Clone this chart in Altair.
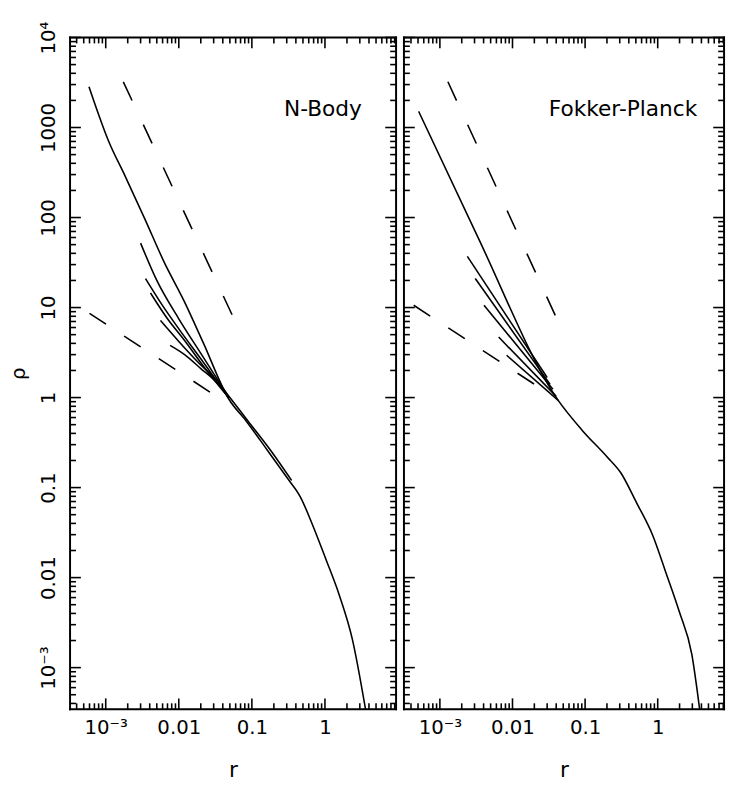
import math
import altair as alt
import pandas as pd

FONT = "DejaVu Sans"

# ---------------- data ----------------
# y range of both panels
rho_domain = [3.45e-4, 1.0e4]
# x ranges
r_domain_nbody = [3.25e-4, 9.4]
r_domain_fp = [3.2e-4, 8.2]

x_label_values = [1e-3, 0.01, 0.1, 1]
y_label_values = [1e-3, 0.01, 0.1, 1, 10, 100, 1000, 1e4]

# --- N-Body panel: solid curves ---
nb_main_r = [5.9e-4, 1.1e-3, 1.83e-3, 3.4e-3, 6.3e-3, 0.0117, 0.0215, 0.048, 0.085, 0.163, 0.30, 0.46, 0.69, 1.03, 1.58, 2.36, 3.6]
nb_main_rho = [2840, 700, 292, 98, 32, 12, 4.1, 0.97, 0.54, 0.26, 0.13, 0.079, 0.037, 0.016, 6.3e-3, 2.1e-3, 3.4e-4]
nb_a_r = [3.0e-3, 5e-3, 0.01, 0.02, 0.048]
nb_a_rho = [52, 20, 7.5, 3.1, 1.02]
nb_b_r = [3.5e-3, 6e-3, 0.01, 0.02, 0.048]
nb_b_rho = [21, 10.5, 5.8, 2.7, 1.0]
nb_c_r = [4.1e-3, 7e-3, 0.012, 0.022, 0.048]
nb_c_rho = [14.5, 7.5, 4.3, 2.2, 1.0]
nb_d_r = [5.6e-3, 0.01, 0.02, 0.032, 0.05, 0.09, 0.18, 0.35]
nb_d_rho = [7.2, 4.2, 2.3, 1.6, 1.0, 0.54, 0.26, 0.12]
nb_e_r = [7.6e-3, 0.012, 0.02, 0.032, 0.048]
nb_e_rho = [3.8, 3.0, 2.1, 1.5, 1.0]
# --- N-Body panel: dashed reference slopes ---
nb_steep_r = [1.74e-3, 0.054]
nb_steep_rho = [3220, 8.2]
nb_shallow_r = [6.0e-4, 0.0296]
nb_shallow_rho = [8.6, 1.09]

# --- Fokker-Planck panel: solid curves ---
fp_main_r = [5.1e-4, 3.2e-3, 0.0426, 0.0895, 0.20, 0.31, 0.51, 0.86, 1.28, 1.98, 2.95, 3.78]
fp_main_rho = [1510, 65, 0.93, 0.44, 0.22, 0.146, 0.068, 0.029, 0.0117, 4.2e-3, 1.4e-3, 3.45e-4]
fp_a_r = [2.39e-3, 0.03]
fp_a_rho = [37, 1.67]
fp_b_r = [3.07e-3, 0.033]
fp_b_rho = [21, 1.4]
fp_c_r = [4.05e-3, 0.036]
fp_c_rho = [10.6, 1.24]
fp_d_r = [6.45e-3, 0.04]
fp_d_rho = [4.7, 1.03]
fp_e_r = [8.3e-3, 0.0426]
fp_e_rho = [2.95, 0.93]
# --- Fokker-Planck panel: dashed reference slopes ---
fp_steep_r = [1.29e-3, 0.0388]
fp_steep_rho = [3220, 8.2]
fp_shallow_r = [4.36e-4, 0.0229]
fp_shallow_rho = [10.6, 1.31]

panel_labels = ["N-Body", "Fokker-Planck"]
label_r = [3.2, 3.5]
label_rho = [1590, 1620]


def curves_frame(curves):
    rows = []
    for cid, (rs, rhos) in enumerate(curves):
        for i, (r, rho) in enumerate(zip(rs, rhos)):
            rows.append({"curve": cid, "i": i, "r": r, "rho": rho})
    return pd.DataFrame(rows)


def decade_ticks(lo, hi):
    major, minor = [], []
    for e in range(-5, 5):
        for k in range(1, 10):
            v = k * 10.0 ** e
            if lo <= v <= hi:
                (major if k == 1 else minor).append(v)
    return major, minor


MAJ, MIN = 11, 6  # tick lengths in pixels


def tick_frame(width, height, r_domain):
    """Inward frame ticks as short 2-point segments placed through the log scales."""
    r0, r1 = r_domain
    y0, y1 = rho_domain
    ppd_x = width / math.log10(r1 / r0)
    ppd_y = height / math.log10(y1 / y0)
    xmaj, xmin = decade_ticks(r0, r1)
    ymaj, ymin = decade_ticks(y0, y1)
    rows = []
    tid = 0

    def seg(a, b):
        nonlocal tid
        rows.append({"tid": tid, "i": 0, "r": a[0], "rho": a[1]})
        rows.append({"tid": tid, "i": 1, "r": b[0], "rho": b[1]})
        tid += 1

    for vals, ln in ((xmaj, MAJ), (xmin, MIN)):
        fy = 10 ** (ln / ppd_y)
        for v in vals:
            seg((v, y1), (v, y1 / fy))
            seg((v, y0), (v, y0 * fy))
    for vals, ln in ((ymaj, MAJ), (ymin, MIN)):
        fx = 10 ** (ln / ppd_x)
        for v in vals:
            seg((r0, v), (r0 * fx, v))
            seg((r1, v), (r1 / fx, v))
    return pd.DataFrame(rows)


def panel(width, height, r_domain, solid, steep, shallow, label, label_pos, show_y):
    xs = alt.Scale(type="log", domain=r_domain, nice=False, zero=False)
    ys = alt.Scale(type="log", domain=rho_domain, nice=False, zero=False)
    xaxis = alt.Axis(
        values=x_label_values,
        labelExpr="datum.value < 0.002 ? '10\u207b\u00b3' : format(datum.value, '~g')",
        ticks=False, domain=False, grid=False, title="r",
        labelFont=FONT, labelFontSize=20, labelColor="black", labelPadding=9,
        labelFlush=False, labelOverlap=False,
        titleFont=FONT, titleFontSize=22, titleFontWeight="normal", titleColor="black",
        titlePadding=22,
    )
    if show_y:
        yaxis = alt.Axis(
            values=y_label_values,
            labelExpr="datum.value < 0.002 ? '10\u207b\u00b3' : datum.value > 5000 ? '10\u2074' : format(datum.value, '~g')",
            ticks=False, domain=False, grid=False, title="\u03c1",
            labelFont=FONT, labelFontSize=20, labelColor="black", labelPadding=12,
            labelAngle=270, labelAlign="center", labelBaseline="bottom",
            labelFlush=False, labelOverlap=False,
            titleFont=FONT, titleFontSize=20, titleFontWeight="normal", titleColor="black",
            titlePadding=10,
        )
    else:
        yaxis = None
    X = alt.X("r:Q", scale=xs, axis=xaxis)
    Y = alt.Y("rho:Q", scale=ys, axis=yaxis)

    layers = []
    layers.append(
        alt.Chart(curves_frame(solid)).mark_line(color="black", strokeWidth=1.6, clip=True, interpolate="monotone")
        .encode(x=X, y=Y, detail="curve:N", order="i:Q")
    )
    layers.append(
        alt.Chart(curves_frame(steep)).mark_line(color="black", strokeWidth=1.6, strokeDash=[21, 27], clip=True)
        .encode(x=X, y=Y, detail="curve:N", order="i:Q")
    )
    layers.append(
        alt.Chart(curves_frame(shallow)).mark_line(color="black", strokeWidth=1.6, strokeDash=[20, 22], clip=True)
        .encode(x=X, y=Y, detail="curve:N", order="i:Q")
    )
    # inward frame ticks
    layers.append(
        alt.Chart(tick_frame(width, height, r_domain)).mark_line(color="black", strokeWidth=1.6)
        .encode(x=X, y=Y, detail="tid:N", order="i:Q")
    )
    # frame
    one = pd.DataFrame({"k": [0]})
    for enc in (
        dict(x=alt.value(0), x2=alt.value(width), y=alt.value(0)),
        dict(x=alt.value(0), x2=alt.value(width), y=alt.value(height)),
        dict(x=alt.value(0), y=alt.value(0), y2=alt.value(height)),
        dict(x=alt.value(width), y=alt.value(0), y2=alt.value(height)),
    ):
        layers.append(alt.Chart(one).mark_rule(color="black", strokeWidth=2, strokeCap="square").encode(**enc))
    lab = pd.DataFrame({"r": [label_pos[0]], "rho": [label_pos[1]], "t": [label]})
    layers.append(
        alt.Chart(lab).mark_text(font=FONT, fontSize=22, color="black", align="right", baseline="middle")
        .encode(x=X, y=Y, text="t:N")
    )
    return alt.layer(*layers).properties(width=width, height=height)


H = 682
left = panel(331, H, r_domain_nbody,
             [(nb_main_r, nb_main_rho), (nb_a_r, nb_a_rho), (nb_b_r, nb_b_rho),
              (nb_c_r, nb_c_rho), (nb_d_r, nb_d_rho), (nb_e_r, nb_e_rho)],
             [(nb_steep_r, nb_steep_rho)], [(nb_shallow_r, nb_shallow_rho)],
             panel_labels[0], (label_r[0], label_rho[0]), True)
right = panel(325, H, r_domain_fp,
              [(fp_main_r, fp_main_rho), (fp_a_r, fp_a_rho), (fp_b_r, fp_b_rho),
               (fp_c_r, fp_c_rho), (fp_d_r, fp_d_rho), (fp_e_r, fp_e_rho)],
              [(fp_steep_r, fp_steep_rho)], [(fp_shallow_r, fp_shallow_rho)],
              panel_labels[1], (label_r[1], label_rho[1]), False)

chart = (
    alt.hconcat(left, right, spacing=0)
    .properties(padding={"left": 1, "top": 7, "right": 0, "bottom": 0})
    .configure(background="white")
    .configure_view(strokeOpacity=0)
)

chart.save("out.html", embed_options={"renderer": "svg", "actions": False})
